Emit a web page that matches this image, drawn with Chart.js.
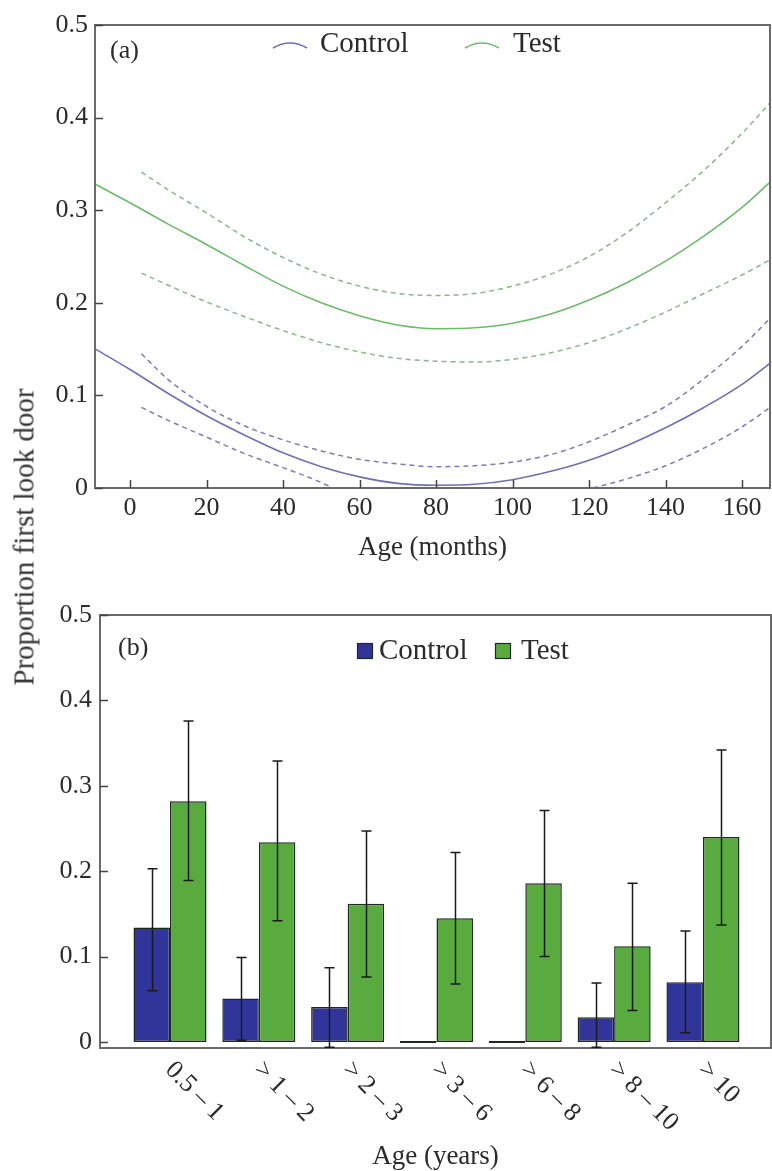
<!DOCTYPE html>
<html><head><meta charset="utf-8">
<script src="https://cdn.jsdelivr.net/npm/chart.js@4.4.1/dist/chart.umd.min.js"></script>
<style>
html,body{margin:0;padding:0;background:#fff;}
#wrap{position:relative;width:772px;height:1171px;overflow:hidden;background:#fff;}
#ca{position:absolute;left:0;top:0;}
#cb{position:absolute;left:0;top:560px;}
#ytitle{position:absolute;left:24px;top:537px;transform:translate(-50%,-50%) rotate(-90deg);font:29px "Liberation Serif",serif;color:#333;white-space:nowrap;}
</style></head><body>
<div id="wrap">
<canvas id="ca" width="772" height="570"></canvas>
<canvas id="cb" width="772" height="611"></canvas>
<div id="ytitle">Proportion first look door</div>
</div>
<script>
// ---------- DATA ----------
const seriesNames = ['Control', 'Test'];

// Panel (a): fitted curves (months vs proportion)
const monthsFit = [-9, 0, 10, 20, 30, 40, 50, 60, 70, 80, 90, 100, 110, 120, 130, 140, 150, 160, 168];
const controlFit = [0.150, 0.128, 0.102, 0.078, 0.057, 0.038, 0.023, 0.012, 0.005, 0.003, 0.004, 0.009, 0.018, 0.030, 0.046, 0.065, 0.087, 0.112, 0.137];
const testFit = [0.328, 0.308, 0.285, 0.263, 0.240, 0.218, 0.200, 0.186, 0.176, 0.172, 0.173, 0.178, 0.188, 0.203, 0.222, 0.245, 0.272, 0.303, 0.333];

const monthsCI = [3, 10, 20, 30, 40, 50, 60, 70, 80, 90, 100, 110, 120, 130, 140, 150, 160, 168];
const controlUpper = [0.145, 0.117, 0.088, 0.067, 0.052, 0.040, 0.031, 0.026, 0.023, 0.024, 0.028, 0.036, 0.050, 0.068, 0.088, 0.118, 0.153, 0.186];
const testUpper = [0.341, 0.322, 0.297, 0.271, 0.249, 0.231, 0.218, 0.210, 0.208, 0.210, 0.218, 0.231, 0.250, 0.276, 0.308, 0.343, 0.383, 0.419];
const testLower = [0.232, 0.219, 0.201, 0.185, 0.170, 0.157, 0.147, 0.140, 0.137, 0.136, 0.139, 0.146, 0.157, 0.172, 0.190, 0.210, 0.230, 0.248];
const monthsControlLower = [3, 10, 20, 30, 40, 50, 53, 87, 121, 130, 140, 150, 160, 168];
const controlLower = [0.087, 0.073, 0.055, 0.037, 0.022, 0.006, 0, null, 0, 0.010, 0.024, 0.043, 0.066, 0.089];

const monthTicks = [0, 20, 40, 60, 80, 100, 120, 140, 160];
const propTicks = [0, 0.1, 0.2, 0.3, 0.4, 0.5];
const propTickLabels = ['0', '0.1', '0.2', '0.3', '0.4', '0.5'];

// Panel (b): bars by age class (years)
const ageGroups = ['0.5 \u2013 1', '> 1 \u2013 2', '> 2 \u2013 3', '> 3 \u2013 6', '> 6 \u2013 8', '> 8 \u2013 10', '> 10'];
const controlVals = [0.134, 0.051, 0.041, 0, 0, 0.029, 0.070];
const controlLow  = [0.060, 0.002, -0.006, null, null, -0.006, 0.011];
const controlHigh = [0.203, 0.099, 0.087, null, null, 0.069, 0.130];
const testVals = [0.282, 0.234, 0.162, 0.145, 0.186, 0.112, 0.240];
const testLow  = [0.189, 0.142, 0.076, 0.068, 0.100, 0.037, 0.137];
const testHigh = [0.376, 0.329, 0.247, 0.222, 0.271, 0.186, 0.342];

// ---------- STYLE ----------
const FONT = '"Liberation Serif", serif';
const TXT = '#2b2b2b';
const FRAME = '#6a6a6a';
const cLine = '#6f6fb6', cDash = '#7c7cb6';
const tLine = '#6cbb6a', tDash = '#88b888';
const cBar = '#31359a', tBar = '#5aab3f', barEdge = '#1d2b1d';

Chart.defaults.font.family = FONT;
Chart.defaults.color = TXT;

const pts = (xs, ys) => xs.map((x, i) => ({x: x, y: ys[i]}));

// frame + inward ticks
const framePlugin = {
  id: 'frame',
  afterDatasetsDraw(chart, args, o) {
    const {ctx, chartArea: a} = chart;
    ctx.save();
    ctx.strokeStyle = FRAME;
    ctx.lineWidth = 2;
    ctx.strokeRect(a.left, a.top, a.right - a.left, a.bottom - a.top);
    ctx.lineWidth = 1.5;
    ctx.strokeStyle = '#444';
    const ys = chart.scales.y;
    ys.ticks.forEach(t => {
      const py = Math.round(ys.getPixelForValue(t.value)) + 0.5;
      ctx.beginPath(); ctx.moveTo(a.left, py); ctx.lineTo(a.left + 8, py); ctx.stroke();
    });
    if (o.xTicks) {
      const xs = chart.scales.x;
      xs.ticks.forEach(t => {
        const px = Math.round(xs.getPixelForValue(t.value)) + 0.5;
        ctx.beginPath(); ctx.moveTo(px, a.bottom); ctx.lineTo(px, a.bottom - 8); ctx.stroke();
      });
    }
    ctx.restore();
  }
};

// panel letter + legend
const annotPlugin = {
  id: 'annot',
  afterDraw(chart, args, o) {
    const {ctx} = chart;
    ctx.save();
    ctx.fillStyle = TXT;
    ctx.textBaseline = 'middle';
    ctx.textAlign = 'left';
    ctx.font = '26px ' + FONT;
    ctx.fillText(o.panel, o.panelX, o.panelY);
    ctx.font = '29px ' + FONT;
    o.items.forEach(it => {
      if (o.kind === 'arc') {
        ctx.strokeStyle = it.color; ctx.lineWidth = 1.6;
        ctx.beginPath();
        ctx.moveTo(it.sx, o.y + 4);
        ctx.quadraticCurveTo(it.sx + 17, o.y - 6, it.sx + 34, o.y + 4);
        ctx.stroke();
      } else {
        ctx.fillStyle = it.color; ctx.fillRect(it.sx, o.y - 8, 16, 16);
        ctx.strokeStyle = barEdge; ctx.lineWidth = 1.2; ctx.strokeRect(it.sx + 0.5, o.y - 7.5, 15, 15);
      }
      ctx.fillStyle = TXT;
      ctx.fillText(it.label, it.tx, o.y);
    });
    ctx.restore();
  }
};

// error bars
const errPlugin = {
  id: 'errbars',
  afterDatasetsDraw(chart, args, o) {
    const {ctx} = chart;
    const ys = chart.scales.y;
    ctx.save();
    ctx.strokeStyle = '#1a1a1a';
    ctx.lineWidth = 1.5;
    o.sets.forEach((s, di) => {
      const meta = chart.getDatasetMeta(di);
      meta.data.forEach((bar, i) => {
        if (s.low[i] == null || s.high[i] == null) return;
        const x = Math.round(bar.x) + 0.5;
        const y1 = ys.getPixelForValue(s.low[i]);
        const y2 = ys.getPixelForValue(s.high[i]);
        ctx.beginPath();
        ctx.moveTo(x, y1); ctx.lineTo(x, y2);
        ctx.moveTo(x - 5, y1); ctx.lineTo(x + 5, y1);
        ctx.moveTo(x - 5, y2); ctx.lineTo(x + 5, y2);
        ctx.stroke();
      });
    });
    ctx.restore();
  }
};

// rotated category labels (panel b)
const catLabelPlugin = {
  id: 'catlabels',
  afterDraw(chart, args, o) {
    const {ctx, chartArea: a} = chart;
    const xs = chart.scales.x;
    ctx.save();
    ctx.fillStyle = TXT;
    ctx.font = '26px ' + FONT;
    ctx.textAlign = 'left';
    ctx.textBaseline = 'middle';
    o.labels.forEach((lab, i) => {
      const px = xs.getPixelForValue(i);
      ctx.save();
      ctx.translate(px - 1, a.bottom + 18);
      ctx.rotate(Math.PI / 4);
      ctx.fillText(lab, 0, 0);
      ctx.restore();
    });
    ctx.restore();
  }
};

const yTickCb = (v, i) => propTickLabels[i];

// ---------- CHART (a) ----------
new Chart(document.getElementById('ca'), {
  type: 'line',
  data: {
    datasets: [
      {label: seriesNames[0], data: pts(monthsFit, controlFit), borderColor: cLine, borderWidth: 1.6},
      {label: seriesNames[0] + ' upper', data: pts(monthsCI, controlUpper), borderColor: cDash, borderWidth: 1.5, borderDash: [5, 4]},
      {label: seriesNames[0] + ' lower', data: pts(monthsControlLower, controlLower), borderColor: cDash, borderWidth: 1.5, borderDash: [5, 4], spanGaps: false},
      {label: seriesNames[1], data: pts(monthsFit, testFit), borderColor: tLine, borderWidth: 1.6},
      {label: seriesNames[1] + ' upper', data: pts(monthsCI, testUpper), borderColor: tDash, borderWidth: 1.5, borderDash: [5, 4]},
      {label: seriesNames[1] + ' lower', data: pts(monthsCI, testLower), borderColor: tDash, borderWidth: 1.5, borderDash: [5, 4]}
    ]
  },
  options: {
    responsive: false, animation: false, devicePixelRatio: 1, events: [],
    layout: {padding: {top: 25, right: 2, left: 0, bottom: 0}},
    elements: {point: {radius: 0}, line: {cubicInterpolationMode: 'monotone', fill: false}},
    scales: {
      x: {
        type: 'linear', min: -9.15, max: 167.3,
        afterBuildTicks: s => { s.ticks = monthTicks.map(v => ({value: v})); },
        afterFit: s => { s.height = 82; },
        grid: {display: false, drawTicks: false}, border: {display: false},
        ticks: {font: {size: 26}, color: TXT, padding: 5, maxRotation: 0, autoSkip: false},
        title: {display: true, text: 'Age (months)', font: {size: 27}, color: TXT, padding: {top: 0, bottom: 6}}
      },
      y: {
        min: 0, max: 0.5,
        afterBuildTicks: s => { s.ticks = propTicks.map(v => ({value: v})); },
        afterFit: s => { s.width = 95; },
        grid: {display: false, drawTicks: false}, border: {display: false},
        ticks: {font: {size: 26}, color: TXT, padding: 7, callback: yTickCb}
      }
    },
    plugins: {
      legend: {display: false}, tooltip: {enabled: false},
      frame: {xTicks: true},
      annot: {panel: '(a)', panelX: 110, panelY: 51, kind: 'arc', y: 44,
        items: [
          {label: seriesNames[0], color: cLine, sx: 273, tx: 320},
          {label: seriesNames[1], color: tLine, sx: 465, tx: 513}
        ]}
    }
  },
  plugins: [framePlugin, annotPlugin]
});

// ---------- CHART (b) ----------
new Chart(document.getElementById('cb'), {
  type: 'bar',
  data: {
    datasets: [
      {label: seriesNames[0], data: controlVals.map((v, i) => ({x: i, y: v})), backgroundColor: cBar},
      {label: seriesNames[1], data: testVals.map((v, i) => ({x: i, y: v})), backgroundColor: tBar}
    ]
  },
  options: {
    responsive: false, animation: false, devicePixelRatio: 1, events: [],
    layout: {padding: {top: 55, right: 1, left: 0, bottom: 0}},
    datasets: {bar: {categoryPercentage: 0.822, barPercentage: 1.0, borderColor: barEdge, borderWidth: 1.5, borderSkipped: false, minBarLength: 2}},
    scales: {
      x: {
        type: 'linear', min: -0.788, max: 6.766, offset: false,
        afterBuildTicks: s => { s.ticks = ageGroups.map((g, i) => ({value: i})); },
        afterFit: s => { s.height = 123; },
        grid: {display: false, drawTicks: false}, border: {display: false},
        ticks: {display: false},
        title: {display: true, text: 'Age (years)', font: {size: 27}, color: TXT, padding: {top: 0, bottom: -2}}
      },
      y: {
        min: -0.007, max: 0.5,
        afterBuildTicks: s => { s.ticks = propTicks.map(v => ({value: v})); },
        afterFit: s => { s.width = 100; },
        grid: {display: false, drawTicks: false}, border: {display: false},
        ticks: {font: {size: 26}, color: TXT, padding: 8, callback: yTickCb}
      }
    },
    plugins: {
      legend: {display: false}, tooltip: {enabled: false},
      frame: {xTicks: false},
      errbars: {sets: [{low: controlLow, high: controlHigh}, {low: testLow, high: testHigh}]},
      catlabels: {labels: ageGroups},
      annot: {panel: '(b)', panelX: 118, panelY: 88, kind: 'box', y: 91,
        items: [
          {label: seriesNames[0], color: cBar, sx: 357, tx: 379},
          {label: seriesNames[1], color: tBar, sx: 495, tx: 521}
        ]}
    }
  },
  plugins: [framePlugin, errPlugin, catLabelPlugin, annotPlugin]
});
</script>
</body></html>
